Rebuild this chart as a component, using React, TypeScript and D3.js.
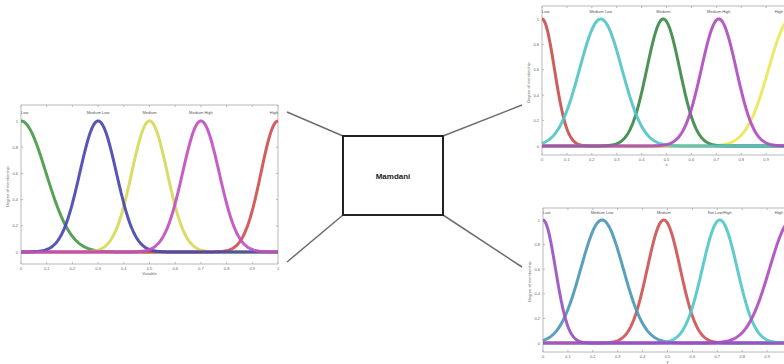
import * as d3 from 'd3';

// membership function parameters (center, width)
const leftNames = ['Low', 'Medium Low', 'Medium', 'Medium High', 'High'];
const leftCenters = [0, 0.3, 0.5, 0.7, 1.0];
const leftSigmas = [0.097, 0.071, 0.069, 0.071, 0.066];
const leftColors = ['#4a9a4a', '#4848b0', '#d8d85a', '#c050c0', '#d05050'];
const leftOrder = [0, 2, 4, 1, 3];

const topNames = ['Low', 'Medium Low', 'Medium', 'Medium High', 'High'];
const topCenters = [0, 0.236, 0.487, 0.71, 1.0];
const topSigmas = [0.05, 0.085, 0.066, 0.07, 0.09];
const topColors = ['#c85050', '#52c4c4', '#3d8a4a', '#b04cc0', '#e8e85a'];
const topOrder = [0, 4, 2, 1, 3];

const botNames = ['Low', 'Medium Low', 'Medium', 'Not Low/High', 'High'];
const botCenters = [0, 0.237, 0.485, 0.71, 1.0];
const botSigmas = [0.05, 0.085, 0.066, 0.07, 0.09];
const botColors = ['#9a50c4', '#4a98b8', '#d05454', '#50c8c8', '#b04cc0'];
const botOrder = [2, 1, 3, 4, 0];

const xTicks = [0, 0.1, 0.2, 0.3, 0.4, 0.5, 0.6, 0.7, 0.8, 0.9, 1];
const xTickLabels = ['0', '0.1', '0.2', '0.3', '0.4', '0.5', '0.6', '0.7', '0.8', '0.9', '1'];
const yTicks = [0, 0.2, 0.4, 0.6, 0.8, 1];
const yTickLabels = ['0', '0.2', '0.4', '0.6', '0.8', '1'];

const gauss = (x: number, c: number, s: number) => Math.exp(-((x - c) * (x - c)) / (2 * s * s));
const samples = d3.range(0, 1.0001, 0.0025);
const VIEW_W = 784;

type ChartProps = {
  x0: number; x1: number; y1: number; y0: number; top: number; axisY: number;
  names: string[]; centers: number[]; sigmas: number[]; colors: string[]; order: number[];
  xLabel: string; nameY: number;
};

function MfChart(p: ChartProps) {
  const x = d3.scaleLinear().domain([0, 1]).range([p.x0, p.x1]);
  const y = d3.scaleLinear().domain([0, 1]).range([p.y0, p.y1]);
  const grey = '#b8b8b8';
  const txt = '#666';
  const right = Math.min(p.x1, VIEW_W - 1);
  return (
    <g fontFamily="Liberation Sans, Arial, sans-serif">
      {/* frame */}
      <line x1={p.x0} x2={p.x1} y1={p.top} y2={p.top} stroke={grey} />
      <line x1={p.x1} x2={p.x1} y1={p.top} y2={p.axisY} stroke={grey} />
      <line x1={p.x0} x2={p.x0} y1={p.top} y2={p.axisY} stroke={grey} />
      <line x1={p.x0} x2={p.x1} y1={p.axisY} y2={p.axisY} stroke={grey} />
      {xTicks.map((t, i) => (
        <g key={'x' + i}>
          <line x1={x(t)} x2={x(t)} y1={p.axisY} y2={p.axisY - 2} stroke={grey} />
          <line x1={x(t)} x2={x(t)} y1={p.top} y2={p.top + 2} stroke={grey} />
          {x(t) + 3 < VIEW_W && (
            <text x={x(t)} y={p.axisY + 6} fontSize={4} fill={txt} textAnchor="middle">{xTickLabels[i]}</text>
          )}
        </g>
      ))}
      {yTicks.map((t, i) => (
        <g key={'y' + i}>
          <line x1={p.x0} x2={p.x0 + 2} y1={y(t)} y2={y(t)} stroke={grey} />
          <line x1={p.x1} x2={p.x1 - 2} y1={y(t)} y2={y(t)} stroke={grey} />
          <text x={p.x0 - 3} y={y(t) + 1.5} fontSize={4} fill={txt} textAnchor="end">{yTickLabels[i]}</text>
        </g>
      ))}
      <text x={x(0.5)} y={p.axisY + 11} fontSize={4} fill={txt} textAnchor="middle">{p.xLabel}</text>
      <text transform={`translate(${p.x0 - 12},${(p.y0 + p.y1) / 2}) rotate(-90)`} fontSize={4} fill={txt} textAnchor="middle">Degree of membership</text>
      {p.names.map((n, i) => (
        <text key={'n' + i} x={p.centers[i] >= 1 ? right : x(p.centers[i])} y={p.nameY} fontSize={4} fill="#555"
          textAnchor={p.centers[i] <= 0 ? 'start' : p.centers[i] >= 1 ? 'end' : 'middle'}>{n}</text>
      ))}
      {p.order.map(i => {
        const line = d3.line<number>().x(v => x(v)).y(v => y(gauss(v, p.centers[i], p.sigmas[i])));
        return <path key={'c' + i} d={line(samples) || ''} fill="none" stroke={p.colors[i]} strokeWidth={3} strokeOpacity={0.92} />;
      })}
    </g>
  );
}

export default function App() {
  return (
    <svg width={784} height={364} style={{ position: 'fixed', left: 0, top: 0, background: '#fff' }}>
      <rect x={0} y={0} width={784} height={364} fill="#fff" />
      <MfChart x0={21} x1={278} y1={121} y0={252} top={105} axisY={264} nameY={114}
        names={leftNames} centers={leftCenters} sigmas={leftSigmas} colors={leftColors} order={leftOrder} xLabel="Variable" />
      <MfChart x0={542} x1={791} y1={19} y0={146} top={6} axisY={155} nameY={13}
        names={topNames} centers={topCenters} sigmas={topSigmas} colors={topColors} order={topOrder} xLabel="x" />
      <MfChart x0={543} x1={792} y1={220} y0={343} top={208} axisY={352} nameY={214}
        names={botNames} centers={botCenters} sigmas={botSigmas} colors={botColors} order={botOrder} xLabel="y" />

      <g stroke="#6e6e6e" strokeWidth={1.5}>
        <line x1={287} y1={112} x2={343} y2={136} />
        <line x1={287} y1={262} x2={343} y2={215} />
        <line x1={443} y1={136} x2={522} y2={105} />
        <line x1={443} y1={215} x2={522} y2={267} />
      </g>
      <rect x={343} y={136} width={100} height={79} fill="#fff" stroke="#222" strokeWidth={2} />
      <text x={393} y={179} fontSize={8} fontWeight={700} fill="#222" textAnchor="middle"
        fontFamily="Liberation Sans, Arial, sans-serif">Mamdani</text>
    </svg>
  );
}
